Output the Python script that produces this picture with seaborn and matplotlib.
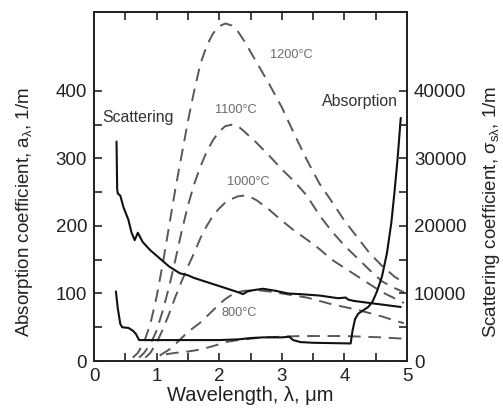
import numpy as np
import pandas as pd
import matplotlib
matplotlib.use("Agg")
import matplotlib.pyplot as plt
import seaborn as sns

# Spectral absorption coefficient (left axis, 1/m)
wl_abs = [0.35, 0.38, 0.42, 0.45, 0.55, 0.62, 0.67, 0.72, 1.0, 1.5, 2.0, 2.3, 2.5,
          2.7, 3.0, 3.12, 3.18, 3.3, 3.5, 4.1, 4.13, 4.17, 4.22, 4.3, 4.38, 4.45,
          4.52, 4.6, 4.68, 4.75, 4.8, 4.85, 4.9]
abs_coef = [103, 78, 55, 50, 49, 45, 40, 31, 31, 31, 31, 32, 34,
            35, 35, 36, 31, 28, 27, 26, 45, 62, 70, 75, 80, 88,
            103, 125, 160, 205, 250, 300, 360]

# Spectral scattering coefficient (right axis, 1/m)
wl_sca = [0.36, 0.37, 0.38, 0.42, 0.47, 0.55, 0.6, 0.65, 0.7, 0.78, 0.9, 1.05, 1.2,
          1.37, 1.5, 1.6, 1.8, 2.0, 2.2, 2.33, 2.38, 2.45, 2.55, 2.7, 2.9, 3.1,
          3.3, 3.6, 3.9, 4.02, 4.06, 4.15, 4.4, 4.65, 4.9]
sca_coef = [32500, 25500, 24800, 24500, 22800, 20900, 19000, 17900, 19000, 17600,
            16400, 15200, 14000, 13000, 12700, 12300, 11700, 11100, 10500, 10100,
            9900, 10300, 10500, 10700, 10400, 10000, 9900, 9700, 9300, 9400, 9100,
            8900, 8600, 8300, 8000]

# Blackbody emission curves (relative units on the left scale)
wl_1200 = [0.62, 0.7, 0.8, 0.9, 1.0, 1.1, 1.2, 1.3, 1.4, 1.5, 1.6, 1.7, 1.8, 1.9,
           2.0, 2.1, 2.2, 2.3, 2.4, 2.5, 2.6, 2.8, 3.0, 3.2, 3.4, 3.6, 3.8, 4.0,
           4.2, 4.4, 4.6, 4.8, 4.95]
bb_1200 = [5, 12, 28, 55, 95, 145, 200, 255, 305, 355, 400, 440, 467, 485,
           496, 500, 497, 488, 474, 458, 442, 410, 376, 336, 298, 263, 236, 208,
           184, 160, 141, 125, 116]

wl_1100 = [0.72, 0.8, 0.9, 1.0, 1.1, 1.2, 1.3, 1.4, 1.5, 1.6, 1.7, 1.8, 1.9, 2.0,
           2.1, 2.2, 2.3, 2.4, 2.6, 2.8, 3.0, 3.2, 3.4, 3.6, 3.8, 4.0, 4.2, 4.4,
           4.6, 4.8, 4.95]
bb_1100 = [5, 12, 25, 45, 75, 110, 150, 192, 230, 262, 288, 310, 327, 340,
           348, 350, 348, 340, 323, 304, 284, 266, 245, 216, 192, 171, 153, 135,
           118, 108, 102]

wl_1000 = [0.82, 0.9, 1.0, 1.1, 1.2, 1.3, 1.4, 1.5, 1.6, 1.7, 1.8, 1.9, 2.0, 2.1,
           2.2, 2.3, 2.4, 2.5, 2.6, 2.8, 3.0, 3.2, 3.4, 3.6, 3.8, 4.0, 4.2, 4.4,
           4.6, 4.8, 4.95]
bb_1000 = [5, 12, 27, 47, 70, 95, 118, 140, 160, 182, 200, 215, 226, 235,
           240, 244, 245, 243, 238, 224, 208, 193, 180, 166, 150, 138, 126, 114,
           102, 93, 86]

wl_800 = [1.05, 1.2, 1.3, 1.4, 1.5, 1.6, 1.7, 1.8, 1.9, 2.0, 2.1, 2.2, 2.3, 2.4,
          2.6, 2.8, 3.0, 3.2, 3.4, 3.6, 3.8, 4.0, 4.2, 4.4, 4.6, 4.8, 4.95]
bb_800 = [8, 17, 25, 34, 43, 50, 57, 66, 75, 84, 92, 98, 102, 104,
          105, 103, 100, 97, 94, 89, 84, 80, 76, 71, 66, 60, 56]

wl_600 = [1.15, 1.3, 1.5, 1.7, 1.9, 2.1, 2.3, 2.5, 2.7, 3.0, 3.3, 3.6, 4.0, 4.3,
          4.6, 4.95]
bb_600 = [10, 12, 14, 17, 22, 28, 31, 33, 35, 36, 37, 37, 37, 36, 35, 33]

curve_labels = ["1200°C", "1100°C", "1000°C", "800°C"]
label_x = [2.81, 1.93, 2.12, 2.04]
label_y = [453, 372, 265, 71]

sns.set_style("ticks")
plt.rcParams["font.family"] = ["Liberation Sans", "DejaVu Sans"]
plt.rcParams["mathtext.fontset"] = "custom"
plt.rcParams["mathtext.rm"] = "Liberation Sans"
plt.rcParams["mathtext.it"] = "Liberation Sans:italic"
plt.rcParams["axes.edgecolor"] = "#222222"
plt.rcParams["xtick.color"] = "#222222"
plt.rcParams["ytick.color"] = "#222222"
plt.rcParams["text.color"] = "#222222"
plt.rcParams["axes.labelcolor"] = "#222222"

fig = plt.figure(figsize=(5.03, 4.09), dpi=100)
ax = fig.add_axes([94 / 503, 48 / 409, 313 / 503, 349 / 409])
ax2 = ax.twinx()

dash_col = "#585858"
for wl, bb in [(wl_1200, bb_1200), (wl_1100, bb_1100), (wl_1000, bb_1000),
               (wl_800, bb_800), (wl_600, bb_600)]:
    sns.lineplot(x=wl, y=bb, ax=ax, color=dash_col, linewidth=1.4,
                 linestyle=(0, (6.5, 4.0)))

sns.lineplot(x=wl_abs, y=abs_coef, ax=ax, color="#111111", linewidth=1.5)
sns.lineplot(x=wl_sca, y=sca_coef, ax=ax2, color="#111111", linewidth=1.5, sort=False)

ax.set_xlim(0, 5)
ax.set_ylim(0, 517)
ax2.set_ylim(0, 51700)

ax.set_xticks([0, 1, 2, 3, 4, 5])
ax.set_xticks([0.5, 1.5, 2.5, 3.5, 4.5], minor=True)
ax.set_yticks([0, 100, 200, 300, 400])
ax.set_yticks([50, 150, 250, 350], minor=True)
ax2.set_yticks([0, 10000, 20000, 30000, 40000])
ax2.set_yticks([5000, 15000, 25000, 35000], minor=True)

for a in (ax, ax2):
    a.tick_params(which="both", direction="in", length=6, width=1.2, labelsize=13.5, pad=5)
ax.tick_params(which="both", top=True, right=False)
ax2.tick_params(which="both", left=False, right=True)
for a in (ax, ax2):
    for s in a.spines.values():
        s.set_linewidth(1.3)

ax.set_xlabel("Wavelength, λ, μm", fontsize=14.5, labelpad=1)
ax.set_ylabel("Absorption coefficient, a$_\\mathregular{λ}$, 1/m", fontsize=13.5)
ax2.set_ylabel("Scattering coefficient, σ$_\\mathregular{sλ}$, 1/m", fontsize=13.5)
ax.yaxis.set_label_coords(-0.19, 0.427)
ax2.yaxis.set_label_coords(1.236, 0.427)

ax.text(0.128, 360, "Scattering", fontsize=11.4, color="#333333", ha="left", va="center")
ax.text(4.86, 384, "Absorption", fontsize=11.4, color="#333333", ha="right", va="center")
for t, x, y in zip(curve_labels, label_x, label_y):
    ax.text(x, y, t, fontsize=9.2, color="#6a6a6a", ha="left", va="center")

fig.savefig("out.png", dpi=100)
